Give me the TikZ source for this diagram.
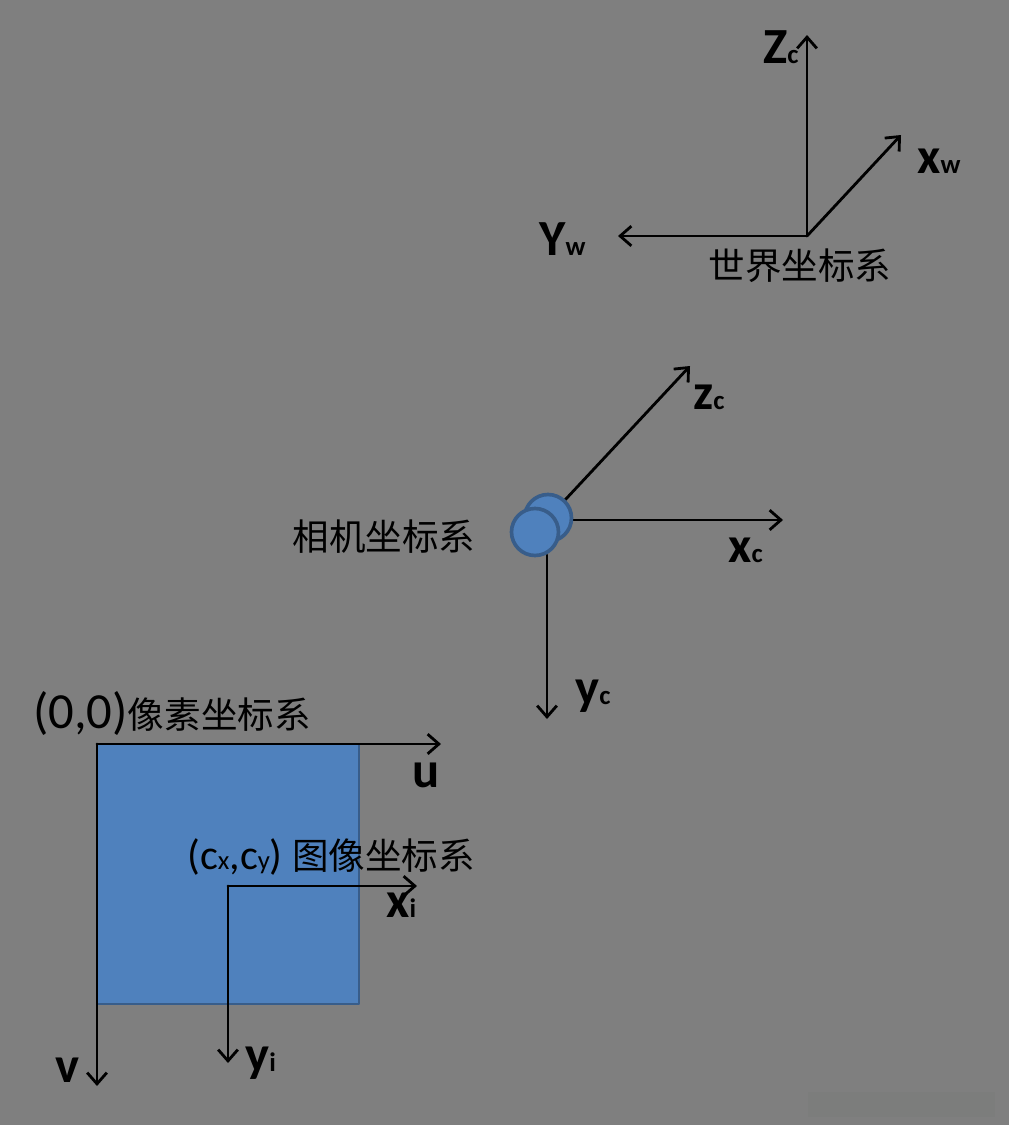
\documentclass[tikz,border=0pt]{standalone}
\usepackage{fontspec}
\setmainfont{Carlito}
\newfontfamily\cjk{Noto Sans CJK SC}
\usetikzlibrary{arrows.meta}
\definecolor{bggray}{RGB}{127,127,127}
\definecolor{faintgray}{RGB}{124,125,124}
\definecolor{camblue}{RGB}{79,129,189}
\definecolor{camedge}{RGB}{56,93,138}
\newcommand{\smallsub}[1]{{\fontsize{19}{19}\selectfont #1}}
\tikzset{
  axis/.style={line width=2pt, -{Straight Barb[length=8pt,width=14pt,line width=2pt]}},
  lbl/.style={font=\bfseries\fontsize{36}{36}\selectfont, inner sep=0pt, anchor=base west},
  cnlbl/.style={font=\cjk\fontsize{26}{26}\selectfont, inner sep=0pt}
}
\begin{document}
\begin{tikzpicture}[x=0.025cm, y=-0.025cm, line join=round, line cap=round]
				\useasboundingbox (0,0) rectangle (1008,1125);
				\fill[bggray] (-5,-5) rectangle (1015,1130);
				\fill[faintgray] (808,1092) rectangle (995,1117);
				% world frame
				\coordinate (Ow) at (807,236);
				\coordinate (Zw) at (807,35);
				\coordinate (Xw) at (901,135);
				\coordinate (Yw) at (618,236);
				\draw[axis] (Ow) -- (Zw);
				\draw[axis] (Ow) -- (Xw);
				\draw[axis] (Ow) -- (Yw);
				\node[lbl] (LZw) at (763,63) {Z\smallsub{c}};
				\node[lbl] (LXw) at (917,173) {x\smallsub{w}};
				\node[lbl] (LYw) at (539,255) {Y\smallsub{w}};
				\node[cnlbl] (Tw) at (800,266) {世界坐标系};
				% camera frame
				\coordinate (Zc0) at (565,500);
				\coordinate (Xc0) at (572,520);
				\coordinate (Yc0) at (547,555);
				\coordinate (Zc) at (690,366);
				\coordinate (Xc) at (783,520);
				\coordinate (Yc) at (547,719);
				\draw[axis] (Zc0) -- (Zc);
				\draw[axis] (Xc0) -- (Xc);
				\draw[axis] (Yc0) -- (Yc);
				\filldraw[fill=camblue, draw=camedge, line width=2.6pt] (548,518) circle (23.5);
				\filldraw[fill=camblue, draw=camedge, line width=2.6pt] (535,532) circle (23.5);
				\node[lbl] (LZc) at (693,409) {z\smallsub{c}};
				\node[lbl] (LXc) at (728,562) {x\smallsub{c}};
				\node[lbl] (LYc) at (575,704) {y\smallsub{c}};
				\node[cnlbl] (Tc) at (384,537) {相机坐标系};
				% pixel and image frames
				\filldraw[fill=camblue, draw=camedge, line width=1.8pt] (97,744) rectangle (359,1004);
				\coordinate (Op) at (97,744);
				\coordinate (U) at (441,744);
				\coordinate (V) at (97,1086);
				\draw[axis] (Op) -- (U);
				\draw[axis] (Op) -- (V);
				\node[lbl, font=\fontsize{36}{36}\selectfont] (Lp) at (33,728) {(0,0)\cjk\fontsize{26}{26}\selectfont 像素坐标系};
				\node[lbl] (LU) at (412,787) {u};
				\node[lbl] (LV) at (55,1082) {v};
				\coordinate (Oi) at (228,886);
				\coordinate (Xi) at (417,886);
				\coordinate (Yi) at (228,1063);
				\draw[axis] (Oi) -- (Xi);
				\draw[axis] (Oi) -- (Yi);
				\node[lbl, font=\fontsize{30}{30}\selectfont] (Li) at (187,869) {(c\smallsub{x},c\smallsub{y}) {\cjk\fontsize{26}{26}\selectfont 图像坐标系}};
				\node[lbl] (LXi) at (386,917) {x\smallsub{i}};
				\node[lbl] (LYi) at (245,1071) {y\smallsub{i}};
			\end{tikzpicture}
\end{document}
